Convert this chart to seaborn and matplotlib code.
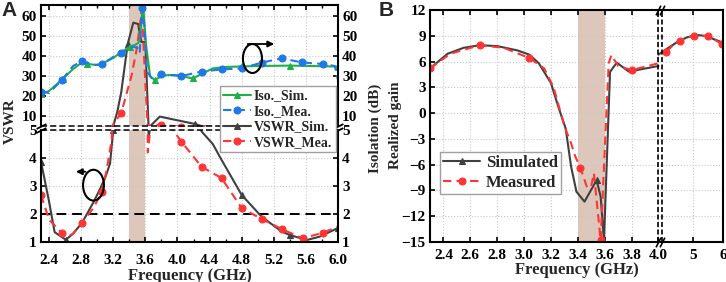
import numpy as np
import seaborn as sns
import matplotlib
matplotlib.use("Agg")
import matplotlib.pyplot as plt
from matplotlib.patches import Ellipse
from matplotlib.ticker import FormatStrFormatter, MultipleLocator

# ---- panel A: isolation (dB) and VSWR vs frequency (GHz), broken y axis
iso_sim_f = [2.30, 2.40, 2.57, 2.70, 2.80, 2.87, 3.00, 3.10, 3.20, 3.30, 3.41, 3.47, 3.51, 3.53,
             3.57, 3.61, 3.66, 3.72, 3.80, 3.90, 4.00, 4.10, 4.19, 4.30, 4.44, 4.60, 4.80, 5.00,
             5.40, 5.80, 6.00]
iso_sim_v = [21.0, 22.5, 28.5, 33.5, 36.5, 36.0, 35.5, 37.0, 39.0, 42.0, 44.7, 45.5, 46.5, 48.0,
             66.0, 45.0, 29.7, 28.0, 30.0, 30.5, 30.3, 29.5, 28.8, 31.0, 33.8, 34.5, 34.8, 35.0,
             35.2, 34.9, 34.7]
iso_mea_f = [2.30, 2.40, 2.56, 2.70, 2.81, 2.95, 3.06, 3.20, 3.30, 3.45, 3.51, 3.53, 3.555, 3.59,
             3.62, 3.68, 3.80, 4.05, 4.30, 4.55, 4.80, 5.05, 5.30, 5.55, 5.81, 5.96, 6.00]
iso_mea_v = [22.2, 21.5, 28.0, 35.0, 37.5, 35.5, 35.8, 39.5, 41.3, 44.7, 43.8, 41.5, 63.8, 54.7,
             32.0, 29.0, 31.0, 30.0, 32.2, 33.3, 33.8, 36.7, 38.8, 36.8, 36.0, 35.0, 28.0]
vswr_sim_f = [2.30, 2.40, 2.47, 2.61, 2.70, 2.81, 2.95, 3.03, 3.10, 3.16, 3.20, 3.25, 3.30, 3.38,
              3.45, 3.51, 3.55, 3.60, 3.625, 3.64, 3.67, 3.78, 4.22, 4.30, 4.44, 4.55, 4.80,
              5.05, 5.30, 5.40, 5.61, 5.77, 6.00]
vswr_sim_v = [3.87, 2.45, 1.35, 1.08, 1.30, 1.68, 2.40, 2.86, 3.30, 3.80, 5.0, 12.0, 22.0, 46.0,
              56.7, 56.0, 47.0, 47.0, 20.0, 4.7, 5.3, 9.7, 6.0, 4.95, 4.5, 3.93, 2.68,
              1.90, 1.37, 1.25, 1.07, 1.19, 1.50]
vswr_mea_f = [2.30, 2.40, 2.56, 2.62, 2.70, 2.81, 2.95, 3.06, 3.12, 3.18, 3.30, 3.43, 3.49, 3.53,
              3.555, 3.57, 3.60, 3.63, 3.68, 3.80, 3.92, 4.05, 4.30, 4.55, 4.80, 5.05, 5.30,
              5.56, 5.81, 6.00]
vswr_mea_v = [2.68, 1.80, 1.32, 1.18, 1.30, 1.68, 2.20, 2.80, 3.60, 4.64, 11.5, 30.5, 43.0, 54.7,
              64.0, 51.5, 26.5, 4.2, 5.5, 5.7, 5.1, 4.58, 3.69, 3.28, 2.21, 1.82, 1.46,
              1.13, 1.33, 1.55]

# marker positions (indices into the arrays above)
iso_sim_mk = [0, 2, 5, 10, 17, 22, 26, 28, 30]
iso_mea_mk = [0, 2, 4, 6, 8, 12, 16, 17, 18, 19, 20, 21, 22, 23, 24]
vswr_sim_mk = [0, 3, 10, 13, 22, 26, 29, 32]
vswr_mea_mk = [0, 2, 5, 7, 10, 19, 21, 22, 23, 24, 25, 26, 27, 28]

# ---- panel B: realized gain (dBi), x axis broken at 4 GHz
gain_sim_f = [2.30, 2.43, 2.55, 2.67, 2.80, 2.95, 3.04, 3.11, 3.20, 3.26, 3.31, 3.35, 3.39, 3.45,
              3.54, 3.57, 3.595, 3.64, 3.69, 3.78, 4.00]
gain_sim_v = [5.2, 6.9, 7.6, 7.9, 7.8, 7.3, 6.8, 5.8, 3.5, 0.5, -1.8, -6.2, -9.15, -10.3,
              -7.8, -9.7, -14.8, 4.8, 5.87, 4.83, 5.48]
gain_sim_hi_f = [4.00, 4.20, 4.50, 4.80, 5.10, 5.40, 5.70, 6.00]
gain_sim_hi_v = [6.8, 7.6, 8.3, 8.8, 9.1, 9.0, 8.6, 8.2]
gain_mea_f = [2.30, 2.45, 2.67, 2.85, 3.04, 3.15, 3.22, 3.30, 3.35, 3.38, 3.42, 3.47, 3.50, 3.52,
              3.57, 3.63, 3.65, 3.70, 3.80, 4.00]
gain_mea_v = [5.2, 6.9, 7.9, 7.6, 6.4, 5.2, 3.0, -1.5, -3.5, -5.0, -6.4, -8.7, -8.5, -7.0,
              -14.8, 5.8, 6.75, 5.5, 5.0, 5.8]
gain_mea_hi_f = [4.13, 4.35, 4.59, 4.80, 5.05, 5.50, 5.97]
gain_mea_hi_v = [7.15, 7.9, 8.43, 8.8, 8.97, 8.97, 8.04]
gain_sim_mk = [14]
gain_mea_mk = [0, 2, 4, 10, 14, 18]
gain_mea_hi_mk = [0, 2, 4, 5, 6]

band = (3.4, 3.6)

sns.set_style("ticks")
plt.rcParams["font.family"] = ["Liberation Serif", "DejaVu Serif"]
plt.rcParams.update({
    "font.weight": "bold", "axes.labelweight": "bold", "font.size": 11,
    "xtick.labelsize": 11, "ytick.labelsize": 11,
    "xtick.direction": "in", "ytick.direction": "in",
    "axes.linewidth": 1.5, "axes.edgecolor": "black",
    "xtick.major.width": 1.2, "ytick.major.width": 1.2, "xtick.minor.width": 1.0,
    "xtick.major.size": 3.5, "ytick.major.size": 3.5, "xtick.minor.size": 2.5,
    "xtick.color": "black", "ytick.color": "black",
})

GREEN, BLUE, GRAY, RED = "#1db04a", "#1f78e6", "#404040", "#ff3535"
SHADE = "#dcc7ba"
DASH = (0, (4, 2.5))
grid_kw = dict(color="#c8c8c8", ls=":", lw=0.8)

W, H = 726, 282
fig = plt.figure(figsize=(W / 100, H / 100), dpi=100)


def px_axes(x0, y0, x1, y1):
    return fig.add_axes([x0 / W, 1 - y1 / H, (x1 - x0) / W, (y1 - y0) / H])


axU = px_axes(41, 5, 338, 126)
axL = px_axes(41, 130, 338, 242)
axB = px_axes(430, 10, 723, 242)


def line(ax, f, v, color, marker, mk, ls="-", label=None):
    sns.lineplot(x=f, y=v, ax=ax, color=color, marker=marker, markevery=mk, linestyle=ls,
                 lw=1.5, ms=5, markeredgecolor=color, markeredgewidth=0.8,
                 estimator=None, label=label, sort=False)


for ax in (axU, axL):
    ax.axvspan(*band, color=SHADE, lw=0, zorder=0.5)
    line(ax, vswr_sim_f, vswr_sim_v, GRAY, "^", vswr_sim_mk, label="VSWR_Sim.")
    line(ax, vswr_mea_f, vswr_mea_v, RED, "o", vswr_mea_mk, DASH, label="VSWR_Mea.")
    line(ax, iso_sim_f, iso_sim_v, GREEN, "^", iso_sim_mk, label="Iso._Sim.")
    line(ax, iso_mea_f, iso_mea_v, BLUE, "o", iso_mea_mk, DASH, label="Iso._Mea.")
    if ax.get_legend():
        ax.get_legend().remove()
    ax.set_xlim(2.3, 6.0)
    ax.xaxis.set_major_locator(MultipleLocator(0.4))
    ax.xaxis.set_minor_locator(MultipleLocator(0.2))
    ax.xaxis.set_major_formatter(FormatStrFormatter("%.1f"))
    ax.grid(True, which="major", **grid_kw)
    ax.tick_params(axis="y", left=True, right=True, labelleft=True, labelright=True, pad=3)
    ax.set_xlabel("")
    ax.set_ylabel("")

axU.set_ylim(5, 65.5)
axU.set_yticks([10, 20, 30, 40, 50, 60])
axU.spines["bottom"].set_visible(False)
axU.tick_params(axis="x", which="both", bottom=False, labelbottom=False, top=True)
axL.set_ylim(1, 5)
axL.set_yticks([1, 2, 3, 4, 5])
axL.spines["top"].set_visible(False)
axL.tick_params(axis="x", which="both", top=False, bottom=True, pad=9)

axL.axhline(2, color="black", ls=(0, (5, 3)), lw=1.4, zorder=1)
axU.axhline(5, color="black", ls=(0, (4, 2)), lw=1.1, clip_on=False)
axL.axhline(5, color="black", ls=(0, (4, 2)), lw=1.1, clip_on=False)

# break marks on the y spines
brk = dict(marker=[(-1, -0.5), (1, 0.5)], markersize=7, linestyle="none", color="black",
           mec="black", mew=1.3, clip_on=False)
axU.plot([0, 1], [0, 0], transform=axU.transAxes, **brk)
axL.plot([0, 1], [1, 1], transform=axL.transAxes, **brk)

# ellipses with arrows pointing to the axis each group belongs to
axU.add_patch(Ellipse((4.934, 38.75), 0.237, 14.5, fill=False, ec="black", lw=1.5, zorder=6))
axU.annotate("", xy=(5.24, 46), xytext=(4.84, 46),
             arrowprops=dict(arrowstyle="-|>", color="black", lw=1.3, mutation_scale=9))
axL.add_patch(Ellipse((2.954, 3.03), 0.26, 1.10, fill=False, ec="black", lw=1.5, zorder=6))
axL.annotate("", xy=(2.70, 3.51), xytext=(2.89, 3.51),
             arrowprops=dict(arrowstyle="-|>", color="black", lw=1.3, mutation_scale=9))

axL.set_xlabel("Frequency (GHz)", fontsize=12, labelpad=0)
fig.text(10 / W, 1 - 121 / H, "VSWR", rotation=90, ha="center", va="center", fontsize=11)
fig.text(375 / W, 1 - 128 / H, "Isolation (dB)", rotation=90, ha="center", va="center",
         fontsize=11)

h, l = axU.get_legend_handles_labels()
order = [l.index(s) for s in ["Iso._Sim.", "Iso._Mea.", "VSWR_Sim.", "VSWR_Mea."]]
fig.legend([h[i] for i in order], [l[i] for i in order], loc="upper left",
           bbox_to_anchor=(220 / W, 1 - 86 / H), fontsize=10, frameon=True, fancybox=False,
           edgecolor="#a0a0a0", framealpha=1, borderpad=0.25, labelspacing=0.18,
           handlelength=2.0, handletextpad=0.2, borderaxespad=0)

# ---- panel B
BREAK, K, GAP = 4.0, 0.2254, 0.03


def fwd(x):
    x = np.asarray(x, float)
    return np.where(x <= BREAK, x, BREAK + GAP + (x - BREAK) * K)


def inv(y):
    y = np.asarray(y, float)
    return np.where(y <= BREAK, y,
                    np.where(y < BREAK + GAP, BREAK, BREAK + (y - BREAK - GAP) / K))


axB.axvspan(*band, color=SHADE, lw=0, zorder=0.5)
line(axB, gain_sim_f, gain_sim_v, GRAY, "^", gain_sim_mk, label="Simulated")
line(axB, gain_mea_f, gain_mea_v, RED, "o", gain_mea_mk, DASH, label="Measured")
line(axB, gain_sim_hi_f, gain_sim_hi_v, GRAY, "^", [], label="_nolegend_")
line(axB, gain_mea_hi_f, gain_mea_hi_v, RED, "o", gain_mea_hi_mk, DASH, label="_nolegend_")
if axB.get_legend():
    axB.get_legend().remove()
axB.set_xscale("function", functions=(fwd, inv))
axB.set_xlim(2.3, 6.0)
bt = [2.4, 2.6, 2.8, 3.0, 3.2, 3.4, 3.6, 3.8, 4.0, 5.0, 6.0]
axB.set_xticks(bt)
axB.set_xticklabels([f"{t:.1f}" if t <= 4 else f"{t:.0f}" for t in bt])
axB.xaxis.set_minor_locator(plt.NullLocator())
axB.set_ylim(-15, 12)
axB.set_yticks(range(-15, 13, 3))
axB.grid(True, **grid_kw)
axB.tick_params(axis="x", top=True, bottom=True, pad=5)
axB.tick_params(axis="y", left=True, right=False, pad=3)
for xv in (BREAK, BREAK + 1e-6):
    axB.axvline(xv, color="black", ls=(0, (3, 1.5)), lw=1.2, zorder=3)
slash = dict(marker=[(-0.5, -1), (0.5, 1)], markersize=7, linestyle="none", color="black",
             mec="black", mew=1.2, clip_on=False)
axB.plot([BREAK, BREAK + 1e-6], [0, 0], transform=axB.get_xaxis_transform(), **slash)
axB.plot([BREAK, BREAK + 1e-6], [1, 1], transform=axB.get_xaxis_transform(), **slash)
axB.set_xlabel("Frequency (GHz)", fontsize=12, labelpad=0)
axB.set_ylabel("")
fig.text(395 / W, 1 - 125 / H, "Realized gain", rotation=90, ha="center", va="center",
         fontsize=11)
hb, lb = axB.get_legend_handles_labels()
fig.legend(hb[:2], lb[:2], loc="upper left", bbox_to_anchor=(440 / W, 1 - 152 / H),
           fontsize=12, frameon=True, fancybox=False, edgecolor="#a0a0a0", framealpha=1,
           borderpad=0.2, labelspacing=0.2, handlelength=2.2, handletextpad=0.35,
           borderaxespad=0)

for lab, x in (("A", 9), ("B", 386)):
    fig.text(x / W, 1 - 10 / H, lab, ha="center", va="center", fontsize=15,
             family="Liberation Sans", weight="bold")

fig.savefig("out.png", dpi=100)
